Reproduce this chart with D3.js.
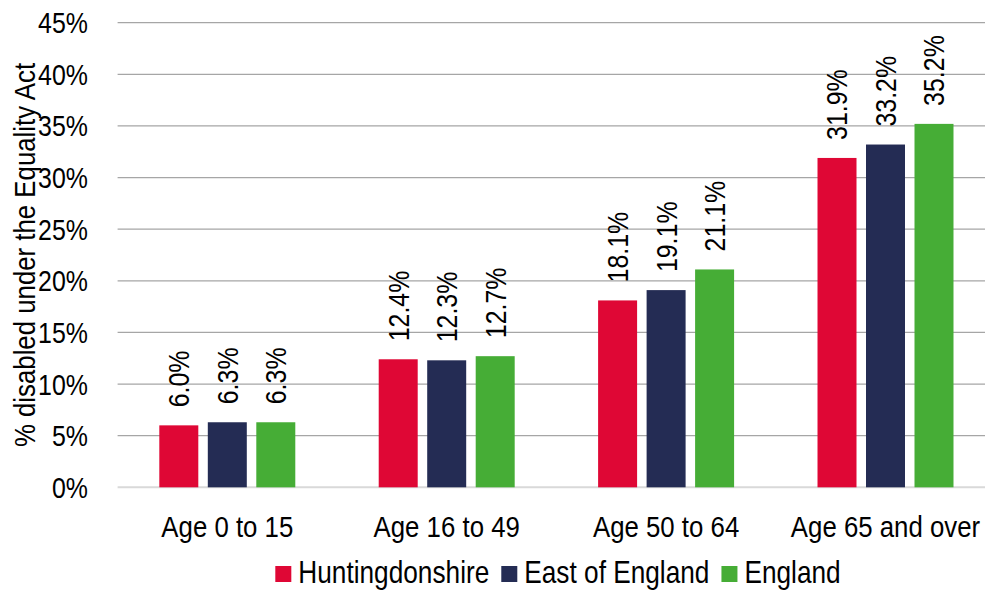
<!DOCTYPE html>
<html>
<head>
<meta charset="utf-8">
<script src="https://cdn.jsdelivr.net/npm/d3@7"></script>
<style>
  html, body { margin: 0; padding: 0; background: #fff; }
  svg { display: block; }
  text { font-family: "Liberation Sans", Arial, sans-serif; fill: #000; }
</style>
</head>
<body>
<svg id="chart" width="985" height="592"></svg>
<script>
// Disability prevalence by age band, three geographies
const categories = ["Age 0 to 15", "Age 16 to 49", "Age 50 to 64", "Age 65 and over"];
const seriesNames = ["Huntingdonshire", "East of England", "England"];
const huntingdonshire = [6.0, 12.4, 18.1, 31.9];
const eastOfEngland = [6.3, 12.3, 19.1, 33.2];
const england = [6.3, 12.7, 21.1, 35.2];
const yTicks = [0, 5, 10, 15, 20, 25, 30, 35, 40, 45];
const colors = ["#df0735", "#242c54", "#46ad36"];
const yTitle = "% disabled under the Equality Act";

const seriesValues = [huntingdonshire, eastOfEngland, england];

// Condensed type: regular face squeezed along the text direction
const SX = 0.86;

const svg = d3.select("#chart");
const plot = { left: 117.6, right: 995.2, top: 22.7, bottom: 487.3 };

const x0 = d3.scaleBand().domain(categories).range([plot.left, plot.right]).paddingInner(0).paddingOuter(0);
const x1 = d3.scaleBand().domain(seriesNames).range([0, x0.bandwidth()]).paddingInner(0.196).paddingOuter(0.86);
const y = d3.scaleLinear().domain([0, 45]).range([plot.bottom, plot.top]);
const color = d3.scaleOrdinal().domain(seriesNames).range(colors);

// Horizontal gridlines
svg.append("g").selectAll("line")
  .data(yTicks.filter(t => t > 0))
  .join("line")
  .attr("x1", plot.left).attr("x2", plot.right)
  .attr("y1", d => y(d)).attr("y2", d => y(d))
  .attr("stroke", "#a6a6a6").attr("stroke-width", 1.3);

// Baseline
svg.append("line")
  .attr("x1", plot.left).attr("x2", plot.right)
  .attr("y1", y(0)).attr("y2", y(0))
  .attr("stroke", "#d9d9d9").attr("stroke-width", 2);

// Y tick labels
svg.append("g").selectAll("text")
  .data(yTicks)
  .join("text")
  .attr("transform", d => `translate(88,${y(d)}) scale(${SX},1)`)
  .attr("dy", "0.36em")
  .attr("text-anchor", "end")
  .attr("font-size", 29)
  .text(d => d + "%");

// Y axis title
svg.append("text")
  .attr("transform", `translate(35,${(plot.top + plot.bottom) / 2}) rotate(-90) scale(${SX},1)`)
  .attr("text-anchor", "middle")
  .attr("font-size", 30)
  .text(yTitle);

// Bars and value labels
const rows = categories.map((c, i) => ({
  category: c,
  values: seriesNames.map((s, j) => ({ series: s, value: seriesValues[j][i] }))
}));

const groups = svg.append("g").selectAll("g")
  .data(rows)
  .join("g")
  .attr("transform", d => `translate(${x0(d.category)},0)`);

groups.selectAll("rect")
  .data(d => d.values)
  .join("rect")
  .attr("x", d => x1(d.series))
  .attr("width", x1.bandwidth())
  .attr("y", d => y(d.value))
  .attr("height", d => y(0) - y(d.value))
  .attr("fill", d => color(d.series));

groups.selectAll("text")
  .data(d => d.values)
  .join("text")
  .attr("transform", d => `translate(${x1(d.series) + x1.bandwidth() / 2},${y(d.value) - 18}) rotate(-90) scale(${SX},1)`)
  .attr("dy", "0.36em")
  .attr("text-anchor", "start")
  .attr("font-size", 29)
  .text(d => d.value.toFixed(1) + "%");

// Category labels
svg.append("g").selectAll("text")
  .data(categories)
  .join("text")
  .attr("transform", d => `translate(${x0(d) + x0.bandwidth() / 2},537) scale(${SX},1)`)
  .attr("text-anchor", "middle")
  .attr("font-size", 30)
  .text(d => d);

// Legend, centred under the plot
const legend = svg.append("g");
const sw = 16, gapText = 7, gapItem = 12;
const items = legend.selectAll("g")
  .data(seriesNames)
  .join("g");
items.append("rect")
  .attr("width", sw).attr("height", sw)
  .attr("y", 566)
  .attr("fill", d => color(d));
items.append("text")
  .attr("transform", `translate(${sw + gapText},582.7) scale(${SX},1)`)
  .attr("font-size", 30.5)
  .text(d => d);

let widths = [];
items.each(function () {
  widths.push(sw + gapText + SX * d3.select(this).select("text").node().getComputedTextLength());
});
const total = d3.sum(widths) + gapItem * (widths.length - 1);
let cx = 558 - total / 2;
items.attr("transform", (d, i) => {
  const t = `translate(${cx},0)`;
  cx += widths[i] + gapItem;
  return t;
});
</script>
</body>
</html>
